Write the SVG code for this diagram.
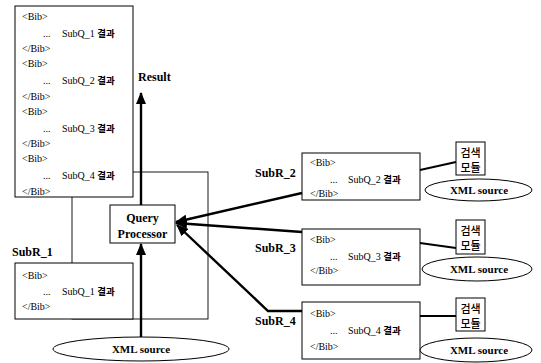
<svg xmlns="http://www.w3.org/2000/svg" width="541" height="363" viewBox="0 0 541 363">
<style>
text{font-family:"Liberation Serif","Noto Sans CJK KR",serif;fill:#000}
.t{font-size:10px}
.b{font-size:12px;font-weight:bold}
.kr{font-family:"Noto Sans CJK KR",sans-serif;font-weight:bold;font-size:9.5px}
.k{font-size:11px;font-family:"Noto Sans CJK KR",sans-serif;font-weight:500}
.box{fill:#fff;stroke:#000;stroke-width:1}
.frame{fill:none;stroke:#000;stroke-width:0.9}
.c{fill:none;stroke:#000;stroke-width:2.4}
.th{fill:none;stroke:#000;stroke-width:1.8}
</style>
<defs>
<marker id="ah" markerUnits="userSpaceOnUse" markerWidth="12" markerHeight="10" refX="11" refY="5" orient="auto">
<path d="M0,0 L12,5 L0,10 Z" fill="#000"/>
</marker>
</defs>
<rect width="541" height="363" fill="#fff"/>
<rect id="frame" class="frame" x="72" y="172" width="136" height="147"/>
<g id="result-box">
<rect class="box" x="15" y="6" width="118" height="191"/>
<text class="t" x="22" y="20">&lt;Bib&gt;</text>
<text class="t" x="43" y="37">...</text><text class="t" x="62" y="37">SubQ_1 <tspan class="kr">결과</tspan></text>
<text class="t" x="22" y="52">&lt;/Bib&gt;</text>
<text class="t" x="22" y="67">&lt;Bib&gt;</text>
<text class="t" x="43" y="84">...</text><text class="t" x="62" y="84">SubQ_2 <tspan class="kr">결과</tspan></text>
<text class="t" x="22" y="100">&lt;/Bib&gt;</text>
<text class="t" x="22" y="115">&lt;Bib&gt;</text>
<text class="t" x="43" y="132">...</text><text class="t" x="62" y="132">SubQ_3 <tspan class="kr">결과</tspan></text>
<text class="t" x="22" y="147">&lt;/Bib&gt;</text>
<text class="t" x="22" y="162">&lt;Bib&gt;</text>
<text class="t" x="43" y="179">...</text><text class="t" x="62" y="179">SubQ_4 <tspan class="kr">결과</tspan></text>
<text class="t" x="22" y="195">&lt;/Bib&gt;</text>
</g>
<text id="result-label" class="b" x="138" y="81">Result</text>
<g id="subr1">
<text class="b" x="12" y="256">SubR_1</text>
<rect class="box" x="15" y="263" width="118" height="56"/>
<text class="t" x="22" y="279">&lt;Bib&gt;</text>
<text class="t" x="43" y="295">...</text><text class="t" x="62" y="295">SubQ_1 <tspan class="kr">결과</tspan></text>
<text class="t" x="22" y="310">&lt;/Bib&gt;</text>
</g>
<g id="qp">
<rect class="box" x="110" y="205" width="65" height="38"/>
<text class="b" x="142.5" y="222" text-anchor="middle">Query</text>
<text class="b" x="142.5" y="238" text-anchor="middle">Processor</text>
</g>
<g id="xml-bottom">
<ellipse class="box" cx="141" cy="349" rx="88" ry="12"/>
<text class="b" x="141" y="353" text-anchor="middle" style="font-size:11px">XML source</text>
</g>
<g id="subr2">
<text class="b" x="255" y="177">SubR_2</text>
<rect class="box" x="302" y="153" width="118" height="47"/>
<text class="t" x="310" y="166">&lt;Bib&gt;</text>
<text class="t" x="330" y="183">...</text><text class="t" x="348" y="183">SubQ_2 <tspan class="kr">결과</tspan></text>
<text class="t" x="310" y="197">&lt;/Bib&gt;</text>
</g>
<g id="subr3">
<text class="b" x="255" y="252">SubR_3</text>
<rect class="box" x="302" y="229" width="118" height="56"/>
<text class="t" x="310" y="243">&lt;Bib&gt;</text>
<text class="t" x="330" y="260">...</text><text class="t" x="348" y="260">SubQ_3 <tspan class="kr">결과</tspan></text>
<text class="t" x="310" y="274">&lt;/Bib&gt;</text>
</g>
<g id="subr4">
<text class="b" x="255" y="325">SubR_4</text>
<rect class="box" x="302" y="302" width="118" height="57"/>
<text class="t" x="310" y="317">&lt;Bib&gt;</text>
<text class="t" x="330" y="334">...</text><text class="t" x="348" y="334">SubQ_4 <tspan class="kr">결과</tspan></text>
<text class="t" x="310" y="350">&lt;/Bib&gt;</text>
</g>
<g id="search1">
<rect class="box" x="456" y="142" width="29" height="33"/>
<text class="k" x="470.5" y="157" text-anchor="middle">검색</text>
<text class="k" x="470.5" y="172" text-anchor="middle">모듈</text>
</g>
<g id="xml1">
<ellipse class="box" cx="478.5" cy="190" rx="53.5" ry="11"/>
<text class="b" x="479" y="194" text-anchor="middle" style="font-size:11px">XML source</text>
</g>
<g id="search2">
<rect class="box" x="456" y="220" width="29" height="34"/>
<text class="k" x="470.5" y="235" text-anchor="middle">검색</text>
<text class="k" x="470.5" y="250" text-anchor="middle">모듈</text>
</g>
<g id="xml2">
<ellipse class="box" cx="477" cy="269" rx="55" ry="12"/>
<text class="b" x="479" y="273" text-anchor="middle" style="font-size:11px">XML source</text>
</g>
<g id="search3">
<rect class="box" x="456" y="298" width="29" height="33"/>
<text class="k" x="470.5" y="313" text-anchor="middle">검색</text>
<text class="k" x="470.5" y="328" text-anchor="middle">모듈</text>
</g>
<g id="xml3">
<ellipse class="box" cx="476" cy="350" rx="56" ry="12"/>
<text class="b" x="479" y="354" text-anchor="middle" style="font-size:11px">XML source</text>
</g>
<g id="connectors">
<line class="c" x1="141" y1="205" x2="141" y2="93" marker-end="url(#ah)"/>
<line class="c" x1="141" y1="337" x2="141" y2="244" marker-end="url(#ah)"/>
<line class="c" x1="302" y1="193" x2="176" y2="222" marker-end="url(#ah)"/>
<line class="c" x1="302" y1="232" x2="176" y2="223" marker-end="url(#ah)"/>
<polyline class="c" points="302,311 268,311 177,225" marker-end="url(#ah)"/>
<line class="th" x1="420" y1="170" x2="456" y2="162"/>
<line class="th" x1="420" y1="243" x2="456" y2="248"/>
<line class="th" x1="420" y1="316" x2="456" y2="316"/>
</g>
</svg>
